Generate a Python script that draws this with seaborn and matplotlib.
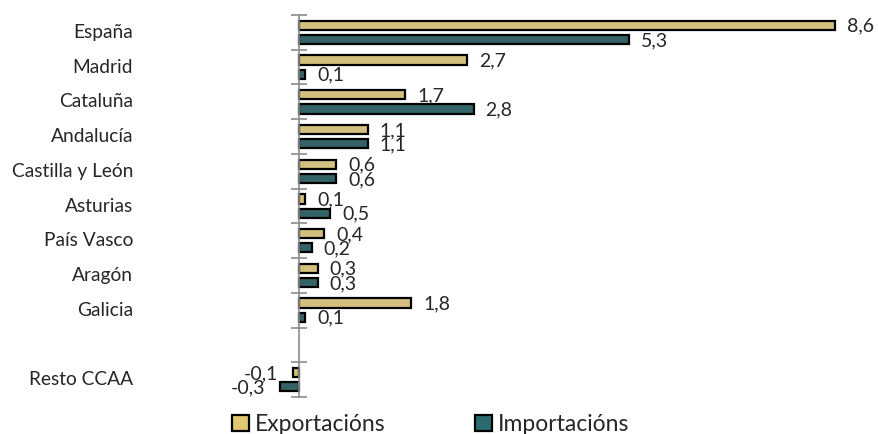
import pandas as pd
import numpy as np
import matplotlib
matplotlib.use("Agg")
import matplotlib.pyplot as plt
import seaborn as sns
from matplotlib.patches import Patch

regions = ['España', 'Madrid', 'Cataluña', 'Andalucía', 'Castilla y León',
           'Asturias', 'País Vasco', 'Aragón', 'Galicia', 'Resto CCAA']
exports = [8.6, 2.7, 1.7, 1.1, 0.6, 0.1, 0.4, 0.3, 1.8, -0.1]
imports = [5.3, 0.1, 2.8, 1.1, 0.6, 0.5, 0.2, 0.3, 0.1, -0.3]
series = ['Exportacións', 'Importacións']
colors = ['#E0C870', '#2A6B70']

# empty slot between Galicia and Resto CCAA
order = regions[:9] + [' '] + regions[9:]

df = pd.DataFrame({
    'Region': regions * 2,
    'Serie': [series[0]] * len(regions) + [series[1]] * len(regions),
    'Valor': exports + imports,
})

sns.set_style('white')
plt.rcParams['font.family'] = ['Lato', 'DejaVu Sans']

fig = plt.figure(figsize=(8.79, 4.34), dpi=100)
ax = fig.add_axes([0.2693, 0.0853, 0.7091, 0.880])

sns.barplot(data=df, x='Valor', y='Region', hue='Serie', order=order,
            hue_order=series, palette=colors, orient='h', width=0.82, gap=0.35,
            edgecolor='black', linewidth=1.6, legend=False, ax=ax)

ax.set_xlim(-1, 9)
ax.set_ylim(len(order) - 0.5, -0.5)

for s in ['top', 'right', 'bottom']:
    ax.spines[s].set_visible(False)
ax.spines['left'].set_position(('data', 0))
ax.spines['left'].set_color('#8c8c8c')
ax.spines['left'].set_linewidth(1.2)
ax.set_xticks([])
ax.set_yticks(np.arange(len(order) + 1) - 0.5)
ax.set_yticklabels([])
ax.tick_params(axis='y', direction='inout', length=12, width=1.2, color='#8c8c8c', left=True)
ax.set_xlabel('')
ax.set_ylabel('')

# category labels on the left
for i, name in enumerate(order):
    ax.annotate(name, xy=(0, i), xycoords=('figure fraction', 'data'),
                xytext=(133, 0), textcoords='offset pixels',
                ha='right', va='center', fontsize=13.8)

# value labels
for cont in ax.containers:
    for bar in cont:
        w = bar.get_width()
        if np.isnan(w):
            continue
        yc = bar.get_y() + bar.get_height() / 2
        txt = f'{w:.1f}'.replace('.', ',')
        if w >= 0:
            ax.annotate(txt, xy=(w, yc), xytext=(12, -1), textcoords='offset pixels',
                        ha='left', va='center', fontsize=14)
        else:
            ax.annotate(txt, xy=(w, yc), xytext=(-15, -1), textcoords='offset pixels',
                        ha='right', va='center', fontsize=14)

handles = [Patch(facecolor=c, edgecolor='black', linewidth=1.6) for c in colors]
fig.legend(handles, series, loc='lower center', bbox_to_anchor=(0.49, -0.05), ncol=2,
           frameon=False, fontsize=16.5, handlelength=0.75, handleheight=0.75,
           handletextpad=0.25, columnspacing=3.9)

fig.savefig('out.png', dpi=100)
